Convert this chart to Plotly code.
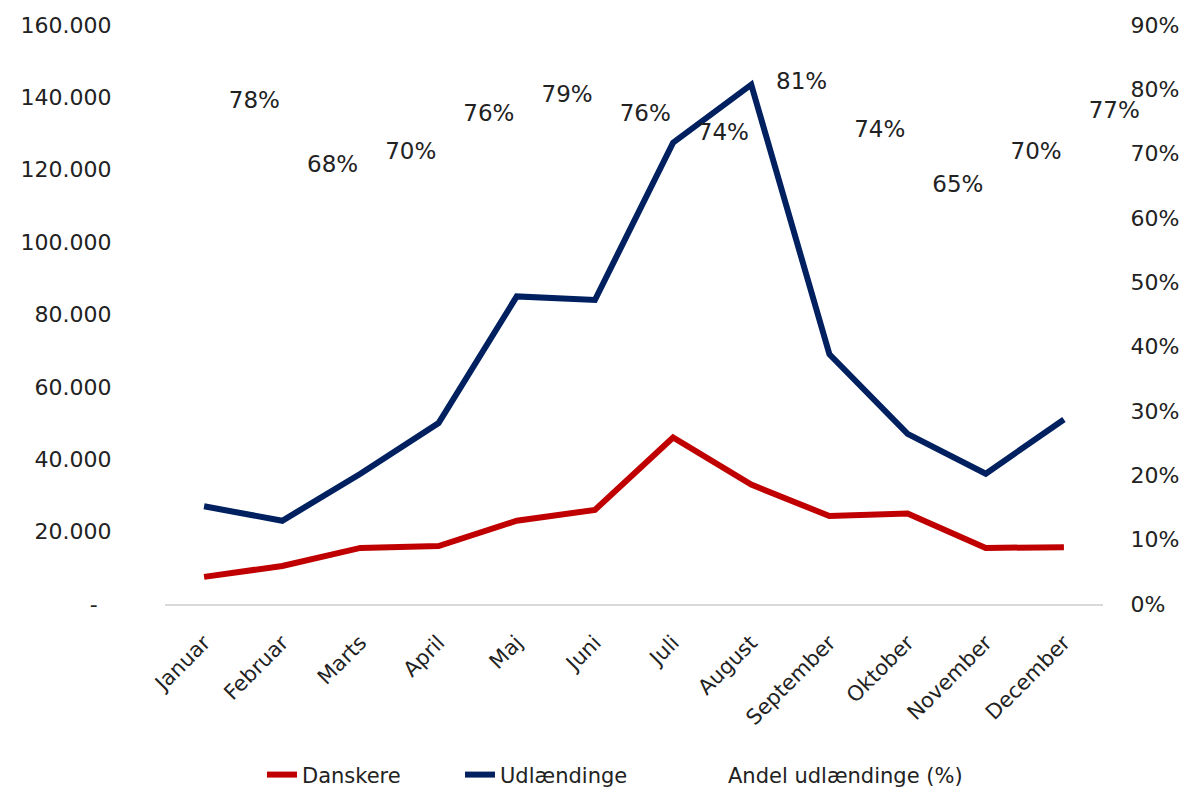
import plotly.graph_objects as go

months = ["Januar", "Februar", "Marts", "April", "Maj", "Juni", "Juli",
          "August", "September", "Oktober", "November", "December"]
danskere = [7500, 10500, 15500, 16000, 23000, 26000, 46000, 33000, 24300, 25000, 15500, 15700]
udlaendinge = [27000, 23000, 36000, 50000, 85000, 84000, 127500, 143500, 69000, 47000, 36000, 51000]
andel = [78, 68, 70, 76, 79, 76, 74, 81, 74, 65, 70, 77]
andel_pos = [78, 68, 70, 76, 79, 76, 73, 81, 73.5, 65, 70, 76.5]

left_vals = [0, 20000, 40000, 60000, 80000, 100000, 120000, 140000, 160000]
left_text = ["-  ", "20.000", "40.000", "60.000", "80.000", "100.000", "120.000", "140.000", "160.000"]
right_vals = [0, 10, 20, 30, 40, 50, 60, 70, 80, 90]
right_text = [f"{v}%" for v in right_vals]

RED = "#C00000"
NAVY = "#002060"
FONT = "DejaVu Sans"
W, H = 1176, 781

fig = go.Figure()
fig.add_trace(go.Scatter(x=months, y=danskere, name="Danskere", mode="lines",
                         line=dict(color=RED, width=6), legend="legend"))
fig.add_trace(go.Scatter(x=months, y=udlaendinge, name="Udlændinge", mode="lines",
                         line=dict(color=NAVY, width=6), legend="legend2"))
fig.add_trace(go.Scatter(x=[None], y=[None], name="Andel udlændinge (%)", mode="lines",
                         line=dict(color="rgba(0,0,0,0)", width=6), yaxis="y2",
                         legend="legend3"))
fig.add_trace(go.Scatter(x=months, y=andel_pos, yaxis="y2", mode="markers+text",
                         marker=dict(size=38, opacity=0), cliponaxis=False,
                         text=[f"{v}%" for v in andel], textposition="middle right",
                         textfont=dict(size=23, color="#222222", family=FONT),
                         showlegend=False, hoverinfo="skip"))

leg_common = dict(orientation="h", xref="container", yref="container", y=0.018,
                  yanchor="middle", xanchor="left", font=dict(size=21),
                  bgcolor="rgba(0,0,0,0)")

fig.update_layout(
    width=W, height=H,
    margin=dict(l=157, r=81, t=17, b=185),
    plot_bgcolor="white", paper_bgcolor="white",
    font=dict(family=FONT, size=22, color="#222222"),
    xaxis=dict(range=[-0.5, 11.5], showline=True, linecolor="#D9D9D9", linewidth=2,
               tickangle=-45, ticks="outside", ticklen=16, tickcolor="rgba(0,0,0,0)",
               tickfont=dict(size=21), showgrid=False, automargin=False),
    yaxis=dict(range=[0, 160000], tickvals=left_vals, ticktext=left_text,
               showgrid=False, zeroline=False, ticks="outside", ticklen=48,
               tickcolor="rgba(0,0,0,0)", automargin=False),
    yaxis2=dict(range=[0, 90], tickvals=right_vals, ticktext=right_text, overlaying="y",
                side="right", showgrid=False, zeroline=False, ticks="outside", ticklen=22,
                tickcolor="rgba(0,0,0,0)", tickfont=dict(size=22), automargin=False),
    legend=dict(x=254 / W, **leg_common),
    legend2=dict(x=452 / W, **leg_common),
    legend3=dict(x=680 / W, **leg_common),
    showlegend=True,
)

fig.write_html("out.html")
